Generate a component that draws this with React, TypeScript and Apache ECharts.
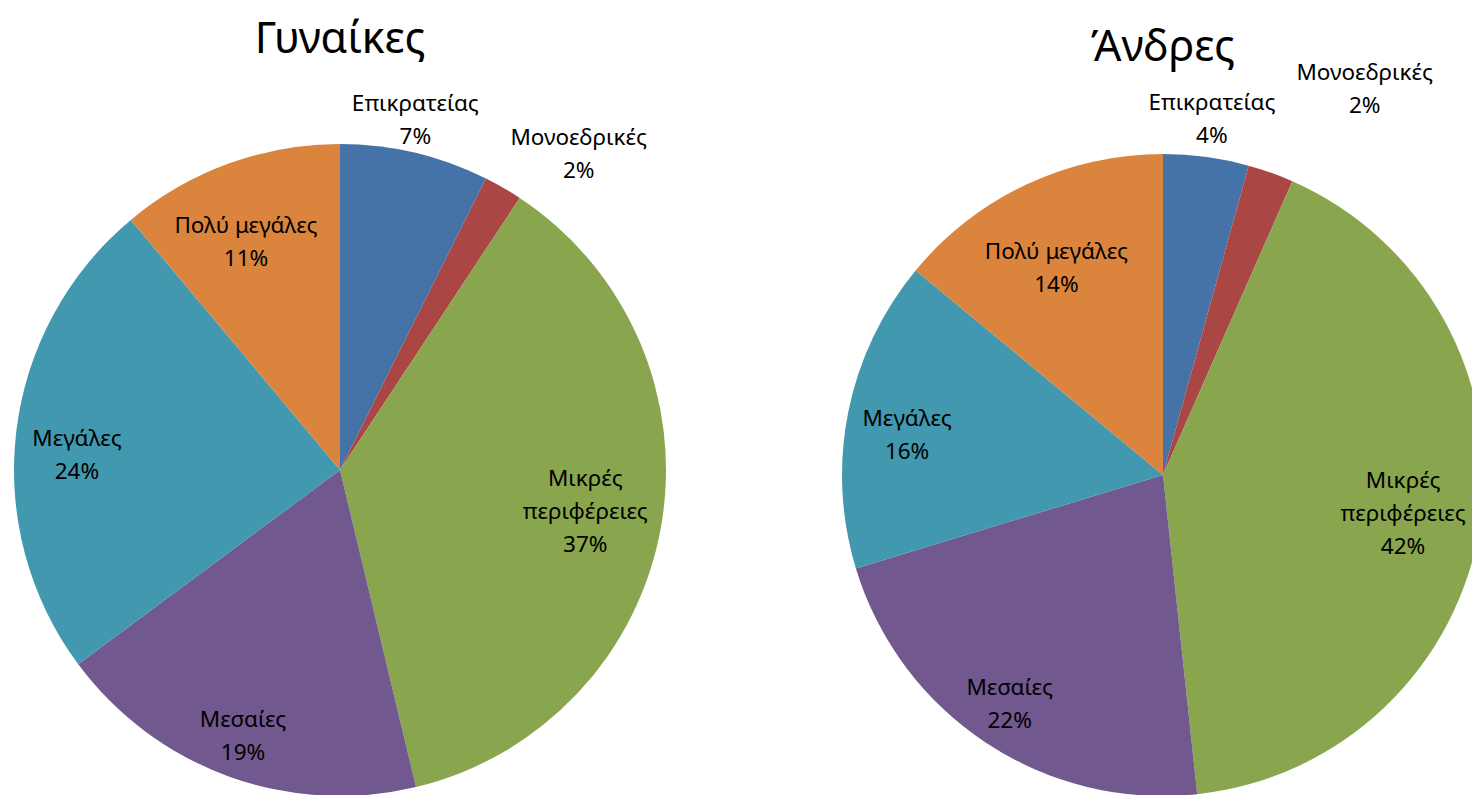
import { useEffect, useRef } from "react";
import * as echarts from "echarts";

const categories = ["Επικρατείας", "Μονοεδρικές", "Μικρές περιφέρειες", "Μεσαίες", "Μεγάλες", "Πολύ μεγάλες"];
const womenValues = [7.4, 1.9, 37, 18.6, 24.1, 11.1];
const menValues = [4.3, 2.3, 41.7, 22, 15.7, 14];
const chartTitles = ["Γυναίκες", "Άνδρες"];

const colors = ["#4572A7", "#AA4643", "#89A54E", "#71588F", "#4198AF", "#DB843D"];
const FONT = "Noto Sans";

type Layout = {
  center: [number, number];
  r: number;
  titleY: number;
  dist: number[];
  shift: [number, number][];
};

const layouts: Layout[] = [
  {
    center: [340, 470],
    r: 326,
    titleY: 36,
    dist: [359, 370, 246, 281, 277, 249],
    shift: [[-8, 1], [52, 6], [0, -3], [0, -2], [15, 17], [-8, 8]],
  },
  {
    center: [1163, 475],
    r: 321,
    titleY: 44,
    dist: [360, 410, 243, 275, 258, 238],
    shift: [[0, 3], [63, 2], [-3, 0], [0, -4], [0, 10], [-4, 10]],
  },
];

function labelText(name: string) {
  return name.replace(" περιφέρειες", "\nπεριφέρειες");
}

function buildSeries(values: number[], lay: Layout) {
  const series: any[] = [];
  series.push({
    type: "pie",
    center: lay.center,
    radius: lay.r,
    startAngle: 90,
    clockwise: true,
    silent: true,
    percentPrecision: 0,
    label: { show: false },
    labelLine: { show: false },
    emphasis: { disabled: true },
    data: categories.map((c, i) => ({
      name: c,
      value: values[i],
      itemStyle: { color: colors[i], borderWidth: 0 },
    })),
  });
  categories.forEach((_, idx) => {
    const d = lay.dist[idx];
    series.push({
      type: "pie",
      center: lay.center,
      radius: [d - 20, d + 20],
      startAngle: 90,
      clockwise: true,
      silent: true,
      percentPrecision: 0,
      z: 5,
      labelLine: { show: false },
      emphasis: { disabled: true },
      labelLayout: { dx: lay.shift[idx][0], dy: lay.shift[idx][1] },
      data: categories.map((c, i) => ({
        name: c,
        value: values[i],
        itemStyle: { color: "rgba(0,0,0,0)", borderWidth: 0 },
        label: {
          show: i === idx,
          position: "inside",
          formatter: (p: any) => labelText(p.name) + "\n" + p.percent + "%",
          color: "#000",
          fontFamily: FONT,
          fontSize: 22.5,
          lineHeight: 33,
          align: "center",
          overflow: "none",
        },
      })),
    });
  });
  return series;
}

export default function App() {
  const ref = useRef<HTMLDivElement>(null);
  useEffect(() => {
    if (!ref.current) return;
    const chart = echarts.init(ref.current, undefined, { renderer: "svg" });
    const option: any = {
      animation: false,
      backgroundColor: "#ffffff",
      graphic: chartTitles.map((t, i) => ({
        type: "text",
        x: layouts[i].center[0],
        y: layouts[i].titleY,
        style: {
          text: t,
          fontFamily: FONT,
          fontSize: 43,
          fill: "#000",
          textAlign: "center",
          textVerticalAlign: "middle",
        },
      })),
      series: [...buildSeries(womenValues, layouts[0]), ...buildSeries(menValues, layouts[1])],
    };
    chart.setOption(option);
    return () => chart.dispose();
  }, []);
  return (
    <div
      ref={ref}
      style={{ position: "fixed", left: 0, top: 0, width: 1472, height: 795, background: "#fff" }}
    />
  );
}
